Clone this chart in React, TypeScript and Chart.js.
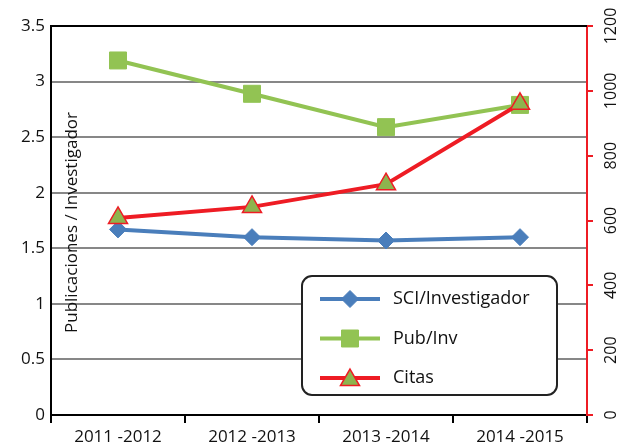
import React, { useEffect, useRef } from "react";
import { Chart, registerables } from "chart.js";

Chart.register(...registerables);

const categories = ["2011 -2012", "2012 -2013", "2013 -2014", "2014 -2015"];
const sciValues = [1.67, 1.6, 1.57, 1.6];
const pubValues = [3.19, 2.89, 2.59, 2.79];
const citasValues = [608, 642, 712, 960];
const leftAxisTitle = "Publicaciones / Investigador";

const FONT = "'Open Sans', 'Noto Sans', sans-serif";

function drawShape(ctx: any, style: string, r: number, cx: number, cy: number) {
  ctx.beginPath();
  if (style === "rectRot") {
    ctx.moveTo(cx, cy - r);
    ctx.lineTo(cx + r, cy);
    ctx.lineTo(cx, cy + r);
    ctx.lineTo(cx - r, cy);
    ctx.closePath();
  } else if (style === "rect") {
    const s = r * Math.SQRT1_2;
    ctx.rect(cx - s, cy - s, 2 * s, 2 * s);
  } else {
    ctx.moveTo(cx, cy - r);
    ctx.lineTo(cx + r * 0.866, cy + r * 0.5);
    ctx.lineTo(cx - r * 0.866, cy + r * 0.5);
    ctx.closePath();
  }
}

const framePlugin = {
  id: "frame",
  afterDraw(chart: any) {
    const { ctx, chartArea } = chart;
    const { left, right, top, bottom } = chartArea;
    ctx.save();
    // top border
    ctx.strokeStyle = "#000";
    ctx.lineWidth = 2;
    ctx.beginPath();
    ctx.moveTo(left, top);
    ctx.lineTo(right, top);
    ctx.stroke();
    ctx.restore();

    // right axis labels, rotated
    const y1 = chart.scales.y1;
    ctx.save();
    ctx.fillStyle = "#111";
    ctx.font = `16px ${FONT}`;
    ctx.textAlign = "center";
    ctx.textBaseline = "middle";
    y1.ticks.forEach((t: any) => {
      const py = y1.getPixelForValue(t.value);
      ctx.save();
      ctx.translate(right + 24, py);
      ctx.rotate(-Math.PI / 2);
      ctx.fillText(String(t.value), 0, 0);
      ctx.restore();
    });
    ctx.restore();

    // axis title inside plot
    ctx.save();
    ctx.fillStyle = "#111";
    ctx.font = `17px ${FONT}`;
    ctx.textAlign = "center";
    ctx.textBaseline = "middle";
    ctx.translate(left + 21, (top + bottom) / 2 + 2);
    ctx.rotate(-Math.PI / 2);
    ctx.fillText(leftAxisTitle, 0, 0);
    ctx.restore();

    // legend
    const bw = 255, bh = 119;
    const bx = right - 30 - bw;
    const by = bottom - 20 - bh;
    ctx.save();
    ctx.fillStyle = "#fff";
    ctx.strokeStyle = "#222";
    ctx.lineWidth = 2;
    ctx.beginPath();
    ctx.roundRect(bx, by, bw, bh, 10);
    ctx.fill();
    ctx.stroke();
    const ds = chart.data.datasets;
    ds.forEach((d: any, i: number) => {
      const cy = by + 23 + i * 39.5;
      const x0 = bx + 18, x1 = bx + 78;
      const cx = (x0 + x1) / 2;
      ctx.strokeStyle = d.borderColor;
      ctx.lineWidth = 4;
      ctx.beginPath();
      ctx.moveTo(x0, cy);
      ctx.lineTo(x1, cy);
      ctx.stroke();
      ctx.fillStyle = d.pointBackgroundColor;
      ctx.strokeStyle = d.pointBorderColor;
      ctx.lineWidth = d.pointBorderWidth || 1;
      drawShape(ctx, d.pointStyle, d.pointRadius, cx, cy + (d.pointStyle === "triangle" ? 2 : 0));
      ctx.fill();
      ctx.stroke();
      ctx.fillStyle = "#111";
      ctx.font = `18px ${FONT}`;
      ctx.textAlign = "left";
      ctx.textBaseline = "middle";
      ctx.fillText(d.label, bx + 91, cy);
    });
    ctx.restore();
  },
};

export default function App() {
  const ref = useRef<HTMLCanvasElement>(null);
  useEffect(() => {
    document.body.style.margin = "0";
    const chart = new Chart(ref.current!, {
      type: "line",
      data: {
        labels: categories,
        datasets: [
          {
            label: "SCI/Investigador",
            data: sciValues,
            borderColor: "#4a7ebb",
            backgroundColor: "#4a7ebb",
            pointBackgroundColor: "#4a7ebb",
            pointBorderColor: "#4a7ebb",
            pointBorderWidth: 1,
            pointStyle: "rectRot",
            pointRadius: 8.5,
            borderWidth: 4,
            yAxisID: "y",
            order: 1,
          },
          {
            label: "Pub/Inv",
            data: pubValues,
            borderColor: "#92c353",
            backgroundColor: "#92c353",
            pointBackgroundColor: "#92c353",
            pointBorderColor: "#92c353",
            pointBorderWidth: 1,
            pointStyle: "rect",
            pointRadius: 12,
            borderWidth: 4,
            yAxisID: "y",
            order: 2,
          },
          {
            label: "Citas",
            data: citasValues,
            borderColor: "#ee1c24",
            backgroundColor: "#8db44e",
            pointBackgroundColor: "#8db44e",
            pointBorderColor: "#ee1c24",
            pointBorderWidth: 1.5,
            pointStyle: "triangle",
            pointRadius: 11,
            borderWidth: 4,
            yAxisID: "y1",
            order: 0,
          },
        ],
      },
      options: {
        responsive: false,
        animation: false,
        layout: { padding: { top: 26, left: 0, right: 0, bottom: 0 } },
        plugins: { legend: { display: false }, tooltip: { enabled: false } },
        elements: { line: { tension: 0 } },
        scales: {
          x: {
            offset: true,
            grid: {
              offset: true,
              drawOnChartArea: false,
              color: "#000",
              lineWidth: 2,
              tickLength: 8,
            },
            border: { color: "#000", width: 2 },
            ticks: { color: "#111", font: { family: FONT, size: 17 }, padding: 4 },
            afterFit: (s: any) => { s.height = 29; },
          },
          y: {
            min: 0,
            max: 3.5,
            position: "left",
            ticks: {
              stepSize: 0.5,
              color: "#111",
              font: { family: FONT, size: 17 },
              padding: 6,
              callback: (v: any) => String(v),
            },
            grid: { color: "#878787", lineWidth: 2, drawTicks: false },
            border: { color: "#000", width: 2 },
            afterFit: (s: any) => { s.width = 51; },
          },
          y1: {
            min: 0,
            max: 1200,
            position: "right",
            ticks: {
              stepSize: 200,
              color: "rgba(0,0,0,0)",
              font: { family: FONT, size: 10 },
              callback: (v: any) => String(v),
            },
            grid: { drawOnChartArea: false, color: "#ee1c24", lineWidth: 2, tickLength: 6 },
            border: { color: "#ee1c24", width: 2 },
            afterFit: (s: any) => { s.width = 39; },
          },
        },
      },
      plugins: [framePlugin],
    });
    return () => chart.destroy();
  }, []);
  return <canvas ref={ref} width={626} height={444} style={{ display: "block" }} />;
}
